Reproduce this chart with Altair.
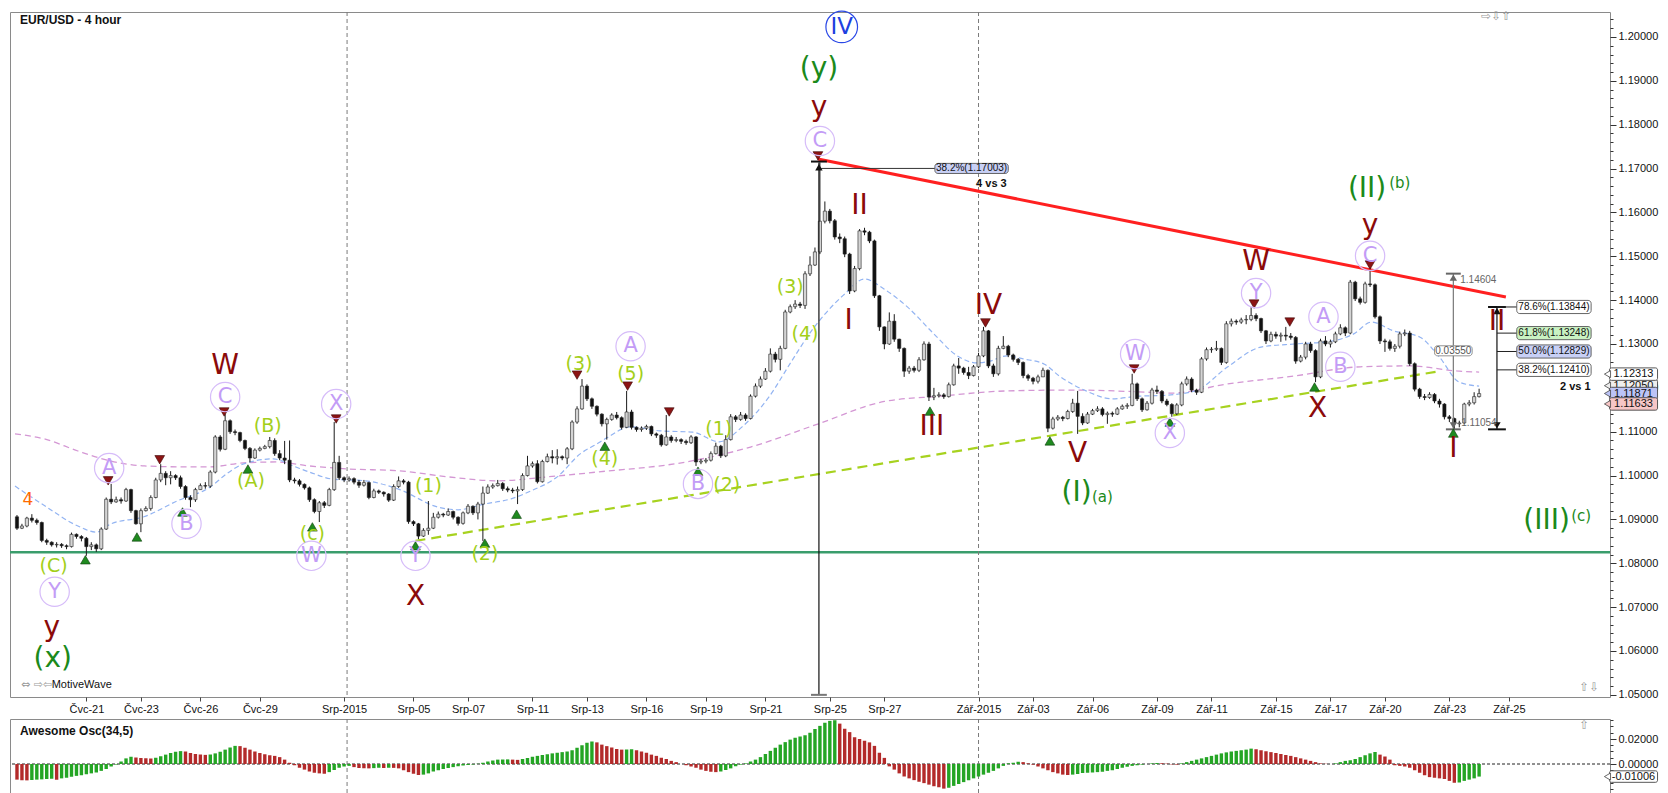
import altair as alt
import pandas as pd

# ---------------- values ----------------
# EUR/USD 4h candles, prices in pips above 1.0000 (bar index 0..295)
FIRST_OPEN = 906
CLOSES = [880,885,903,898,893,852,848,842,843,840,
 838,866,861,857,838,842,833,878,946,940,
 945,942,968,920,890,920,925,950,990,1005,
 995,1000,995,975,950,945,968,977,976,1008,
 1088,1060,1125,1100,1098,1080,1062,1040,1058,1062,
 1066,1080,1050,1040,1035,990,988,980,972,945,
 918,938,932,968,1030,995,990,993,985,978,
 984,950,965,962,958,944,975,988,985,895,
 890,862,875,880,905,912,910,918,905,891,
 915,930,915,935,960,974,977,982,970,967,
 965,968,1000,1022,1027,986,1032,1043,1040,1043,
 1040,1061,1122,1152,1204,1175,1158,1140,1118,1128,
 1138,1132,1110,1145,1110,1105,1108,1112,1095,1092,
 1070,1088,1080,1082,1078,1075,1088,1031,1033,1035,
 1050,1067,1045,1082,1134,1128,1138,1130,1181,1204,
 1220,1238,1277,1265,1290,1373,1385,1391,1388,1460,
 1480,1510,1580,1603,1581,1544,1540,1505,1421,1472,
 1558,1555,1535,1410,1339,1300,1352,1311,1290,1238,
 1245,1240,1264,1300,1179,1182,1184,1180,1207,1250,
 1245,1235,1228,1248,1273,1330,1250,1232,1290,1295,
 1275,1265,1258,1228,1222,1215,1225,1240,1108,1129,
 1133,1130,1146,1165,1135,1120,1140,1148,1152,1139,
 1142,1140,1152,1158,1160,1209,1175,1150,1165,1195,
 1192,1170,1162,1141,1161,1209,1220,1195,1190,1266,
 1287,1288,1290,1258,1346,1352,1350,1355,1356,1365,
 1358,1330,1307,1322,1318,1320,1318,1315,1261,1270,
 1300,1285,1225,1307,1300,1305,1323,1337,1325,1441,
 1403,1395,1437,1435,1362,1307,1305,1290,1295,1323,
 1325,1255,1197,1180,1178,1185,1170,1163,1134,1130,
 1118,1120,1163,1166,1180,1187]
HIGHS = [910,890,906,912,902,895,856,850,848,846,
 843,870,868,864,860,848,845,882,950,981,
 952,950,972,970,922,925,930,955,995,1026,
 1010,1010,1003,1000,978,955,972,982,985,1012,
 1092,1092,1140,1128,1105,1100,1082,1065,1062,1066,
 1070,1088,1085,1058,1079,1080,995,992,982,975,
 948,942,942,972,1122,1045,998,998,996,990,
 990,986,970,968,964,960,980,998,992,988,
 898,892,880,942,915,918,915,925,920,907,
 918,935,932,940,975,980,982,990,985,975,
 972,975,1005,1045,1032,1035,1036,1050,1058,1060,
 1046,1065,1126,1158,1220,1208,1178,1160,1142,1132,
 1142,1145,1135,1193,1150,1112,1112,1116,1114,1098,
 1095,1138,1092,1088,1085,1082,1092,1090,1038,1040,
 1055,1075,1070,1092,1140,1138,1145,1142,1185,1210,
 1226,1245,1290,1282,1296,1378,1390,1400,1396,1466,
 1500,1520,1714,1625,1608,1585,1552,1545,1508,1478,
 1562,1565,1558,1538,1412,1340,1372,1368,1312,1292,
 1250,1250,1270,1306,1305,1200,1190,1188,1212,1255,
 1268,1248,1248,1252,1280,1339,1332,1255,1296,1318,
 1298,1278,1268,1260,1232,1225,1230,1246,1242,1134,
 1138,1136,1150,1175,1193,1142,1145,1152,1158,1156,
 1146,1146,1156,1162,1165,1232,1212,1178,1170,1200,
 1205,1195,1175,1165,1165,1214,1226,1224,1198,1270,
 1292,1293,1307,1292,1352,1358,1356,1360,1366,1384,
 1370,1360,1332,1328,1328,1326,1339,1325,1318,1275,
 1305,1305,1288,1312,1318,1310,1328,1345,1340,1446,
 1444,1408,1442,1476,1438,1365,1312,1310,1300,1328,
 1333,1330,1258,1200,1186,1190,1188,1175,1165,1138,
 1132,1125,1166,1172,1190,1198]
LOWS = [876,878,882,893,888,848,842,838,836,835,
 832,836,856,850,817,830,826,830,876,935,
 938,936,940,915,888,871,918,920,948,985,
 978,980,990,970,945,928,940,968,970,972,
 1005,1055,1058,1095,1092,1076,1058,1030,1038,1055,
 1060,1062,1045,1035,1026,985,982,975,968,940,
 914,894,926,930,965,990,985,986,980,972,
 975,946,948,958,952,940,942,972,980,890,
 885,855,860,865,878,902,905,908,900,886,
 888,912,910,900,851,958,970,975,965,962,
 960,935,965,998,1018,982,984,1030,1028,1025,
 1035,1026,1058,1118,1150,1170,1152,1135,1112,1082,
 1125,1128,1105,1108,1105,1100,1100,1104,1090,1086,
 1066,1068,1075,1076,1072,1070,1072,1022,1026,1028,
 1032,1048,1040,1042,1080,1122,1125,1125,1128,1178,
 1200,1218,1235,1258,1240,1288,1370,1380,1382,1380,
 1455,1478,1505,1575,1575,1538,1530,1498,1414,1418,
 1468,1548,1530,1405,1330,1288,1298,1305,1282,1225,
 1232,1235,1236,1262,1170,1172,1178,1175,1178,1205,
 1232,1230,1220,1226,1245,1270,1245,1225,1228,1288,
 1270,1260,1252,1222,1216,1208,1210,1228,1099,1105,
 1125,1124,1128,1143,1095,1115,1118,1138,1145,1135,
 1118,1134,1138,1150,1152,1158,1170,1145,1148,1162,
 1186,1165,1158,1134,1138,1158,1205,1190,1184,1188,
 1262,1280,1284,1252,1255,1340,1344,1346,1345,1352,
 1352,1325,1300,1304,1312,1305,1308,1310,1255,1258,
 1265,1280,1213,1222,1295,1292,1302,1320,1318,1322,
 1398,1390,1392,1430,1358,1300,1282,1285,1282,1290,
 1318,1250,1192,1175,1172,1175,1165,1155,1128,1122,
 1105,1110,1118,1158,1162,1178]
# Awesome Oscillator (34,5), in thousandths
AO_MILLI = [-12.5,-13.0,-13.1,-12.8,-12.5,-12.3,-12.0,-11.8,-12.6,-11.5,
 -11.0,-10.2,-9.5,-9.0,-8.2,-7.5,-6.8,-5.5,-4.0,-2.0,
 -0.5,2.0,4.5,5.8,5.2,4.8,4.6,4.4,5.0,6.2,
 7.5,8.8,9.8,10.3,10.0,8.8,8.0,7.6,7.3,7.6,
 8.5,9.8,11.5,13.2,14.5,14.3,13.0,11.5,10.0,8.8,
 7.8,7.0,6.5,5.5,3.5,1.0,-1.0,-3.0,-4.5,-6.0,
 -7.0,-7.5,-7.8,-6.5,-4.8,-3.0,-2.0,-1.5,-2.5,-3.2,
 -3.4,-3.5,-3.3,-3.0,-3.2,-3.0,-3.1,-3.5,-5.0,-6.5,
 -7.8,-8.8,-8.5,-7.5,-6.0,-5.0,-4.0,-3.2,-2.5,-1.8,
 -1.2,-0.8,-0.4,0.2,1.0,2.0,2.8,3.5,3.6,3.7,
 3.5,3.3,4.0,4.8,5.8,6.5,7.2,7.8,8.5,9.0,
 9.5,10.0,11.0,13.0,15.0,17.0,18.0,17.3,15.5,14.3,
 13.2,12.0,11.5,11.6,11.8,11.0,10.0,9.0,7.5,6.5,
 5.0,4.0,2.5,1.5,0.0,-1.0,-2.0,-3.0,-4.5,-5.5,
 -6.2,-6.5,-6.0,-4.8,-3.5,-1.8,-0.5,0.5,2.0,3.5,
 5.5,8.0,10.5,13.0,15.5,17.5,19.5,21.0,22.0,23.0,
 25.0,28.0,30.5,33.0,34.5,35.0,32.3,28.2,25.5,21.4,
 20.0,18.6,17.3,14.5,9.0,4.9,-1.9,-4.5,-7.5,-10.0,
 -11.5,-12.9,-14.2,-15.3,-16.5,-17.8,-18.6,-19.7,-19.0,-17.5,
 -16.0,-14.5,-13.0,-11.5,-10.0,-8.5,-7.0,-5.5,-3.5,-1.5,
 0.5,1.0,1.8,1.5,0.5,-0.5,-2.0,-3.5,-5.0,-6.5,
 -7.5,-8.5,-8.8,-8.5,-8.0,-7.2,-7.0,-6.8,-6.5,-6.2,
 -5.5,-5.0,-4.0,-3.0,-2.2,-1.5,-1.0,-0.5,0.0,0.5,
 0.8,0.6,0.3,-0.3,-0.5,0.5,1.5,2.5,3.5,4.5,
 5.5,6.5,7.5,8.5,9.3,10.0,10.5,11.0,11.5,12.3,
 11.8,11.0,10.2,9.5,8.8,8.0,7.2,6.5,5.5,4.5,
 3.5,2.5,1.5,0.5,0.2,0.0,0.5,1.5,2.5,3.0,
 4.0,5.5,7.0,8.5,9.6,7.5,6.0,3.5,-1.0,-1.5,
 -2.0,-3.0,-5.0,-7.0,-9.0,-10.5,-11.0,-11.5,-12.0,-13.5,
 -15.0,-14.8,-13.5,-12.5,-11.5,-10.06]

# time axis (bar index of each date label)
X_TICK_BARS = [14, 25, 37, 49, 66, 80, 91, 104, 115, 127, 139, 151, 164, 175,
               194, 205, 217, 230, 241, 254, 265, 276, 289, 301]
X_TICK_TEXT = ["Čvc-21", "Čvc-23", "Čvc-26", "Čvc-29", "Srp-2015", "Srp-05", "Srp-07",
               "Srp-11", "Srp-13", "Srp-16", "Srp-19", "Srp-21", "Srp-25", "Srp-27",
               "Zář-2015", "Zář-03", "Zář-06", "Zář-09", "Zář-11", "Zář-15", "Zář-17",
               "Zář-20", "Zář-23", "Zář-25"]
MONTH_BREAKS = [66.6, 194.0]

# moving averages
MA_FAST_BAR = [-0.4, 5.6, 12.3, 16, 19, 25.6, 32.3, 39, 42.3, 45.6, 51.7, 55.7, 59, 63.7, 70.3,
               77, 85, 89, 94.3, 99.7, 103.7, 109, 113.7, 117, 119, 123.7, 129.7, 136.3, 141.7,
               146.3, 151.7, 156.3, 160.3, 163, 167, 171, 175, 179.7, 185, 189.7, 193.7, 196.3,
               199.7, 203, 207.3, 210.3, 215.7, 221, 226.3, 231.5, 237.7, 244.3, 251, 257.7,
               264.3, 269.7, 273.3, 277.7, 283, 287, 291, 295]
MA_FAST_PIPS = [976, 931, 885, 871, 890, 906, 942, 974, 1004, 1026, 1038, 1022, 1008, 992, 988,
                969, 928, 922, 935, 947, 965, 997, 1050, 1072, 1086, 1111, 1102, 1099, 1077,
                1111, 1179, 1261, 1330, 1368, 1414, 1448, 1425, 1384, 1323, 1273, 1257, 1261,
                1273, 1266, 1254, 1227, 1193, 1175, 1181, 1183, 1193, 1248, 1293, 1300,
                1305, 1323, 1350, 1330, 1316, 1270, 1213, 1204]
MA_SLOW_BAR = [-0.4, 5.7, 12.3, 19, 25.7, 32.3, 39, 45.7, 52.3, 59, 67, 77, 87, 97, 107, 117,
               135, 148, 161.7, 175, 186.3, 199.7, 213, 226.3, 233, 244.3, 257.7, 271, 281, 291, 295]
MA_SLOW_PIPS = [1095, 1083, 1056, 1033, 1022, 1020, 1020, 1029, 1031, 1022, 1015, 1011, 997, 988,
                997, 1008, 1031, 1065, 1118, 1169, 1181, 1193, 1195, 1191, 1188, 1209, 1227,
                1248, 1250, 1238, 1236]

SUPPORT_LEVEL = 1.0825
RESIST_BAR = [161.6, 300.4]
RESIST_PRICE = [1.1722, 1.1407]
TREND_BAR = [80.4, 287.0]
TREND_PRICE = [1.0851, 1.1238]

SWING_LOW_BAR = [13.8, 24.2, 33.4, 46.6, 59.6, 80.4, 94.4, 100.8, 118.6, 137.4, 184.2, 208.4,
                 232.6, 261.8, 289.8]
SWING_LOW_PRICE = [1.0808, 1.0860, 1.0917, 1.1015, 1.0883, 1.0840, 1.0846, 1.0912, 1.1067,
                   1.1010, 1.1147, 1.1079, 1.1122, 1.1202, 1.1097]
SWING_HIGH_BAR = [18.4, 28.8, 41.8, 64.4, 113.0, 123.2, 131.6, 161.6, 195.4, 225.4, 249.6,
                  256.8, 273.0]
SWING_HIGH_PRICE = [1.0988, 1.1036, 1.1145, 1.1129, 1.1229, 1.1204, 1.1145, 1.1729, 1.1348,
                    1.1243, 1.1391, 1.1350, 1.1480]

# wave labels: (bar, price, text)
LBL_DARKRED = [(7, 1.0652, "y"), (42, 1.1250, "W"), (80.4, 1.0723, "X"), (161.8, 1.1838, "y"),
               (167.8, 1.1352, "I"), (170, 1.1615, "II"), (184.6, 1.1111, "III"),
               (196, 1.1387, "IV"), (214, 1.1049, "V"), (250, 1.1487, "W"),
               (262.4, 1.1152, "X"), (273, 1.1569, "y"), (289.8, 1.1061, "I"),
               (298.6, 1.1350, "II")]
LBL_GREEN = [(7.2, 1.0582, "(x)"), (161.8, 1.1927, "(y)"), (213.8, 1.0960, "(I)"),
             (272.4, 1.1653, "(II)"), (308.6, 1.0897, "(III)")]
LBL_GREEN_SMALL = [(219.0, 1.0951, "(a)"), (279.0, 1.1668, "(b)"), (315.6, 1.0908, "(c)")]
LBL_LIME = [(7.4, 1.0794, "(C)"), (47.2, 1.0988, "(A)"), (50.6, 1.1113, "(B)"),
            (59.6, 1.0867, "(c)"), (83, 1.0976, "(1)"), (94.4, 1.0821, "(2)"),
            (113.4, 1.1254, "(3)"), (118.6, 1.1038, "(4)"), (123.8, 1.1232, "(5)"),
            (141.6, 1.1106, "(1)"), (143.2, 1.0979, "(2)"), (156, 1.1430, "(3)"),
            (159, 1.1323, "(4)")]
LBL_CIRCLED = [(7.6, 1.0735, "Y"), (18.6, 1.1017, "A"), (34.2, 1.0890, "B"), (42, 1.1179, "C"),
               (59.4, 1.0817, "W"), (64.4, 1.1163, "X"), (80.4, 1.0817, "Y"),
               (123.8, 1.1295, "A"), (137.4, 1.0981, "B"), (162, 1.1763, "C"),
               (225.6, 1.1277, "W"), (232.6, 1.1097, "X"), (250, 1.1416, "Y"),
               (263.6, 1.1362, "A"), (267, 1.1248, "B"), (273, 1.1501, "C")]
LBL_ORANGE = [(2.2, 1.0945, "4")]
LBL_BLUE_CIRCLED = [(166.4, 1.2023, "IV")]

# retracement / measuring tools
FIB_A_BAR = 161.8
FIB_A_LEVEL = 1.17003
FIB_A_TEXT = "38.2%(1.17003)"
FIB_B_BAR = 289.8
FIB_B_TOP, FIB_B_BOTTOM = 1.14604, 1.11054
FIB_B_RANGE = "0.03550"
FIB_C_BAR = 298.6
FIB_C_LEVELS = [1.13844, 1.13248, 1.12829, 1.12410]
FIB_C_TEXT = ["78.6%(1.13844)", "61.8%(1.13248)", "50.0%(1.12829)", "38.2%(1.12410)"]
FIB_C_FILL = ["#ffffff", "#c9f2c2", "#c8d0f6", "#ffffff"]

# right-hand price tags, drawn in this order (the grey one sits mostly underneath)
PRICE_TAGS = [1.12050, 1.12313, 1.11871, 1.11633]
PRICE_TAG_FILL = ["#eeeeee", "#ffffff", "#bcc4f7", "#f7c6c6"]
AO_TAG = -0.01006

# ---------------- build ----------------
FONT = "Liberation Sans"
WFONT = "DejaVu Sans"
X0, X1 = -0.4, 320.4
XS = alt.Scale(domain=[X0, X1], nice=False, zero=False)
YS = alt.Scale(domain=[1.04951, 1.2057], nice=False, zero=False)
OS = alt.Scale(domain=[-0.024, 0.036], nice=False, zero=False)

ticks_js = "[" + ",".join(str(v) for v in X_TICK_BARS) + "]"
labels_js = "[" + ",".join("'" + s + "'" for s in X_TICK_TEXT) + "]"
XAX = alt.Axis(values=X_TICK_BARS, labelExpr=f"{labels_js}[indexof({ticks_js}, datum.value)]",
               title=None, grid=False, domain=False, tickSize=4, tickColor="#444",
               labelFont=FONT, labelFontSize=11, labelColor="#111", labelPadding=2,
               labelOverlap=False, labelFlush=False, zindex=0)
y_vals = [round(1.05 + 0.002 * k, 3) for k in range(78)]
major = "abs(round(datum.value*1000)) % 10 == 0"
YAX = alt.Axis(orient="right", values=y_vals, title=None, grid=False, domain=False,
               labelExpr=f"{major} ? format(datum.value, '.5f') : ''",
               tickSize={"condition": {"test": major, "value": 6}, "value": 3},
               tickColor="#333", labelFont=FONT, labelFontSize=11, labelColor="#111",
               labelPadding=2, labelOverlap=False, labelFlush=False, zindex=0)
o_vals = [round(-0.02 + 0.005 * k, 3) for k in range(12)]
omajor = "abs(datum.value) < 1e-9 || abs(datum.value - 0.02) < 1e-9"
OAX = alt.Axis(orient="right", values=o_vals, title=None, grid=False, domain=False,
               labelExpr=f"({omajor}) ? format(datum.value, '.5f') : ''",
               tickSize={"condition": {"test": omajor, "value": 6}, "value": 3},
               tickColor="#333", labelFont=FONT, labelFontSize=11, labelColor="#111",
               labelPadding=2, labelOverlap=False, labelFlush=False, zindex=0)


def xq(f="i"):
    return alt.X(f"{f}:Q", scale=XS, axis=XAX, title=None)


def yq(f="p"):
    return alt.Y(f"{f}:Q", scale=YS, axis=YAX, title=None)


def ox(f="i"):
    return alt.X(f"{f}:Q", scale=XS, axis=None, title=None)


def oy(f="v"):
    return alt.Y(f"{f}:Q", scale=OS, axis=OAX, title=None)


n = min(len(CLOSES), len(HIGHS), len(LOWS))
opens = [FIRST_OPEN] + CLOSES[:n - 1]
rows = []
for k in range(n):
    o, c = opens[k] / 1e4 + 1, CLOSES[k] / 1e4 + 1
    h = max(HIGHS[k] / 1e4 + 1, o, c)
    l = min(LOWS[k] / 1e4 + 1, o, c)
    rows.append({"i": k, "o": o, "c": c, "h": h, "l": l,
                 "col": "#d4d4d4" if c >= o else "#111111"})
bars = pd.DataFrame(rows)

ao_rows = []
for k, v in enumerate(AO_MILLI):
    prev = AO_MILLI[k - 1] if k > 0 else v + 1
    ao_rows.append({"i": k, "v": v / 1000.0, "col": "#24a524" if v > prev else "#b32a2a"})
ao = pd.DataFrame(ao_rows)

layers = []
# support line
layers.append(alt.Chart(pd.DataFrame({"p": [SUPPORT_LEVEL]})).mark_rule(
    color="#3a9d6c", strokeWidth=2.5).encode(y=yq()))
# month separators
layers.append(alt.Chart(pd.DataFrame({"i": MONTH_BREAKS})).mark_rule(
    color="#7a7a7a", strokeDash=[4, 3], strokeWidth=1).encode(x=xq()))
# moving averages
ma_f = pd.DataFrame({"i": MA_FAST_BAR, "p": [v / 1e4 + 1 for v in MA_FAST_PIPS]})
ma_s = pd.DataFrame({"i": MA_SLOW_BAR, "p": [v / 1e4 + 1 for v in MA_SLOW_PIPS]})
layers.append(alt.Chart(ma_s).mark_line(color="#d497d4", strokeDash=[6, 4], strokeWidth=1.3,
                                        interpolate="monotone").encode(x=xq(), y=yq()))
layers.append(alt.Chart(ma_f).mark_line(color="#93b4f2", strokeDash=[5, 3], strokeWidth=1.2,
                                        interpolate="monotone").encode(x=xq(), y=yq()))
# lime trend line
trend = pd.DataFrame({"i": [TREND_BAR[0]], "i2": [TREND_BAR[1]],
                      "p": [TREND_PRICE[0]], "p2": [TREND_PRICE[1]]})
layers.append(alt.Chart(trend).mark_rule(color="#a7d21f", strokeWidth=2.2, strokeDash=[10, 6])
              .encode(x=xq(), x2="i2:Q", y=yq(), y2="p2:Q"))
# candles
layers.append(alt.Chart(bars).mark_rule(color="#1a1a1a", strokeWidth=1)
              .encode(x=xq(), y=yq("l"), y2="h:Q"))
layers.append(alt.Chart(bars).mark_bar(width=3.2, stroke="#222222", strokeWidth=0.6)
              .encode(x=xq(), y=yq("o"), y2="c:Q", fill=alt.Fill("col:N", scale=None)))
# red resistance line
res = pd.DataFrame({"i": [RESIST_BAR[0]], "i2": [RESIST_BAR[1]],
                    "p": [RESIST_PRICE[0]], "p2": [RESIST_PRICE[1]]})
layers.append(alt.Chart(res).mark_rule(color="#ff2020", strokeWidth=3)
              .encode(x=xq(), x2="i2:Q", y=yq(), y2="p2:Q"))

# measuring tools: segments
seg = []
def add_seg(a, b, p, q, col, w):
    seg.append({"i": a, "i2": b, "p": p, "p2": q, "col": col, "w": w})

# tool A (black) at the August top
add_seg(FIB_A_BAR, FIB_A_BAR, 1.1714, 1.0500, "#111111", 1.2)
add_seg(FIB_A_BAR - 1.6, FIB_A_BAR + 1.6, 1.1716, 1.1716, "#111111", 2)
add_seg(FIB_A_BAR - 1.6, FIB_A_BAR + 1.6, 1.0500, 1.0500, "#777777", 2)
add_seg(FIB_A_BAR, 185.2, FIB_A_LEVEL, FIB_A_LEVEL, "#333333", 1)
# tool B (grey) range measure
add_seg(FIB_B_BAR, FIB_B_BAR, FIB_B_TOP, FIB_B_BOTTOM, "#777777", 1.2)
add_seg(FIB_B_BAR - 1.5, FIB_B_BAR + 1.5, FIB_B_TOP, FIB_B_TOP, "#666666", 2)
add_seg(FIB_B_BAR - 1.5, FIB_B_BAR + 1.5, FIB_B_BOTTOM, FIB_B_BOTTOM, "#666666", 2)
# tool C (black) retracement
add_seg(FIB_C_BAR, FIB_C_BAR, FIB_C_LEVELS[0], FIB_B_BOTTOM, "#111111", 1.2)
add_seg(FIB_C_BAR - 1.8, FIB_C_BAR + 1.8, FIB_C_LEVELS[0], FIB_C_LEVELS[0], "#111111", 2)
add_seg(FIB_C_BAR - 1.8, FIB_C_BAR + 1.8, FIB_B_BOTTOM, FIB_B_BOTTOM, "#111111", 2)
for lv in FIB_C_LEVELS:
    add_seg(FIB_C_BAR, 302.6, lv, lv, "#222222", 1)
segdf = pd.DataFrame(seg)
layers.append(alt.Chart(segdf).mark_rule().encode(
    x=xq(), x2="i2:Q", y=yq(), y2="p2:Q",
    color=alt.Color("col:N", scale=None), strokeWidth=alt.StrokeWidth("w:Q", scale=None)))

# arrow heads
arr_up = pd.DataFrame({"i": [FIB_A_BAR, FIB_B_BAR, FIB_C_BAR],
                       "p": [1.1703, FIB_B_TOP - 0.0009, FIB_C_LEVELS[0] - 0.0009],
                       "col": ["#111111", "#666666", "#111111"]})
arr_dn = pd.DataFrame({"i": [FIB_B_BAR, FIB_C_BAR],
                       "p": [FIB_B_BOTTOM + 0.0009, FIB_B_BOTTOM + 0.0009],
                       "col": ["#666666", "#111111"]})
layers.append(alt.Chart(arr_up).mark_point(shape="triangle-up", filled=True, size=55, opacity=1)
              .encode(x=xq(), y=yq(), color=alt.Color("col:N", scale=None)))
layers.append(alt.Chart(arr_dn).mark_point(shape="triangle-down", filled=True, size=55, opacity=1)
              .encode(x=xq(), y=yq(), color=alt.Color("col:N", scale=None)))

# swing markers
lows_df = pd.DataFrame({"i": SWING_LOW_BAR, "p": SWING_LOW_PRICE})
highs_df = pd.DataFrame({"i": SWING_HIGH_BAR, "p": SWING_HIGH_PRICE})
layers.append(alt.Chart(lows_df).mark_point(shape="triangle-up", filled=True, size=95,
                                             color="#1f8a1f", stroke="#0b3d0b", strokeWidth=0.6,
                                             opacity=1).encode(x=xq(), y=yq()))
layers.append(alt.Chart(highs_df).mark_point(shape="triangle-down", filled=True, size=95,
                                              color="#8c1414", stroke="#3a0505", strokeWidth=0.6,
                                              opacity=1).encode(x=xq(), y=yq()))


def text_layer(items, **kw):
    df = pd.DataFrame(items, columns=["i", "p", "t"])
    base = dict(align="center", baseline="middle", font=WFONT)
    base.update(kw)
    return alt.Chart(df).mark_text(**base).encode(x=xq(), y=yq(), text="t:N")


# circled labels
circ_df = pd.DataFrame(LBL_CIRCLED, columns=["i", "p", "t"])
layers.append(alt.Chart(circ_df).mark_point(shape="circle", filled=False, size=860,
                                             color="#d6bcf9", strokeWidth=1.2, opacity=1)
              .encode(x=xq(), y=yq()))
layers.append(text_layer(LBL_CIRCLED, fontSize=21, color="#c39cf6"))
blue_df = pd.DataFrame(LBL_BLUE_CIRCLED, columns=["i", "p", "t"])
layers.append(alt.Chart(blue_df).mark_point(shape="circle", filled=False, size=1000,
                                             color="#2a48e6", strokeWidth=1.2, opacity=1)
              .encode(x=xq(), y=yq()))
layers.append(text_layer(LBL_BLUE_CIRCLED, fontSize=23, color="#2040e0"))
layers.append(text_layer(LBL_DARKRED, fontSize=28, color="#8b0a0a"))
layers.append(text_layer(LBL_GREEN, fontSize=28, color="#1b8a1b"))
layers.append(text_layer(LBL_GREEN_SMALL, fontSize=15, color="#1b8a1b"))
layers.append(text_layer(LBL_LIME, fontSize=19, color="#a3cf1a"))
layers.append(text_layer(LBL_ORANGE, fontSize=17, color="#ff6a00"))

# boxes (fib labels + measure box)
boxes = [{"i": 185.2, "i2": 200.0, "p": FIB_A_LEVEL - 0.00115, "p2": FIB_A_LEVEL + 0.00115,
          "fill": "#c8d0f6", "stroke": "#555555"},
         {"i": 286.0, "i2": 293.6, "p": 1.1273, "p2": 1.1296, "fill": "#ffffff",
          "stroke": "#888888"}]
for lv, f in zip(FIB_C_LEVELS, FIB_C_FILL):
    boxes.append({"i": 302.6, "i2": 317.6, "p": lv - 0.0015, "p2": lv + 0.0015,
                  "fill": f, "stroke": "#555555"})
boxdf = pd.DataFrame(boxes)
layers.append(alt.Chart(boxdf).mark_rect(cornerRadius=3, strokeWidth=0.9).encode(
    x=xq(), x2="i2:Q", y=yq(), y2="p2:Q",
    fill=alt.Fill("fill:N", scale=None), stroke=alt.Stroke("stroke:N", scale=None)))

box_text = [(192.6, FIB_A_LEVEL, FIB_A_TEXT)] + [(310.1, lv, t) for lv, t in zip(FIB_C_LEVELS, FIB_C_TEXT)]
layers.append(text_layer(box_text, fontSize=10, color="#111111", font=FONT))
layers.append(text_layer([(289.8, 1.12845, FIB_B_RANGE)], fontSize=10, color="#555555", font=FONT))
layers.append(text_layer([(291.2, 1.1446, "1.14604"), (291.4, 1.1120, "1.11054")],
                         fontSize=10, color="#666666", font=FONT, align="left"))
layers.append(text_layer([(196.6, 1.1665, "4 vs 3"), (314.4, 1.1203, "2 vs 1")],
                         fontSize=11, color="#111111", font=FONT, fontWeight="bold"))

# price tags: each box, pointer and text drawn together so later tags cover earlier ones
for lv, f in zip(PRICE_TAGS, PRICE_TAG_FILL):
    tb = pd.DataFrame({"i": [321.3], "i2": [331.0], "p": [lv - 0.00142], "p2": [lv + 0.00142]})
    layers.append(alt.Chart(tb).mark_rect(cornerRadius=2, fill=f, stroke="#444444",
                                          strokeWidth=0.9)
                  .encode(x=xq(), x2="i2:Q", y=yq(), y2="p2:Q"))
    tp = pd.DataFrame({"i": [320.9], "p": [lv]})
    layers.append(alt.Chart(tp).mark_point(shape="triangle-left", filled=True, size=50, fill=f,
                                           stroke="#444444", strokeWidth=0.8, opacity=1)
                  .encode(x=xq(), y=yq()))
    layers.append(text_layer([(326.15, lv, f"{lv:.5f}")], fontSize=11, color="#111111",
                             font=FONT))

layers.append(text_layer([(0.6, 1.2039, "EUR/USD - 4 hour")], fontSize=12, color="#111111",
                         font=FONT, fontWeight="bold", align="left"))
layers.append(text_layer([(7.0, 1.0522, "MotiveWave")], fontSize=11, color="#111111",
                         font=FONT, align="left"))
layers.append(text_layer([(0.8, 1.0522, "⇔ ⇨⇦")], fontSize=11, color="#9a9a9a", align="left"))
layers.append(text_layer([(295.4, 1.2048, "⇨⇩⇧"), (315.2, 1.0518, "⇧⇩")], fontSize=12,
                         color="#9a9a9a", align="left"))

main = alt.layer(*layers).properties(width=1600, height=685)

# ---------------- oscillator panel ----------------
olayers = []
olayers.append(alt.Chart(pd.DataFrame({"v": [0.0]})).mark_rule(
    color="#222222", strokeDash=[3, 2], strokeWidth=1).encode(y=oy()))
olayers.append(alt.Chart(pd.DataFrame({"i": MONTH_BREAKS})).mark_rule(
    color="#7a7a7a", strokeDash=[4, 3], strokeWidth=1).encode(x=ox()))
olayers.append(alt.Chart(ao).mark_bar(width=3.4).encode(
    x=ox(), y=oy(), y2=alt.datum(0.0), fill=alt.Fill("col:N", scale=None)))
olayers.append(alt.Chart(pd.DataFrame({"i": [0.6], "v": [0.0262], "t": ["Awesome Osc(34,5)"]}))
               .mark_text(align="left", baseline="middle", font=FONT, fontSize=12,
                          fontWeight="bold", color="#111111")
               .encode(x=ox(), y=oy(), text="t:N"))
otag = pd.DataFrame({"i": [321.3], "i2": [331.0], "v": [AO_TAG - 0.0046], "v2": [AO_TAG + 0.0046]})
olayers.append(alt.Chart(otag).mark_rect(cornerRadius=2, fill="#ffffff", stroke="#444444",
                                         strokeWidth=0.9)
               .encode(x=ox(), x2="i2:Q", y=oy(), y2="v2:Q"))
olayers.append(alt.Chart(pd.DataFrame({"i": [320.9], "v": [AO_TAG]}))
               .mark_point(shape="triangle-left", filled=True, size=50, fill="#ffffff",
                           stroke="#444444", strokeWidth=0.8, opacity=1)
               .encode(x=ox(), y=oy()))
olayers.append(alt.Chart(pd.DataFrame({"i": [326.15], "v": [AO_TAG], "t": [f"{AO_TAG:.5f}"]}))
               .mark_text(align="center", baseline="middle", font=FONT, fontSize=11,
                          color="#111111")
               .encode(x=ox(), y=oy(), text="t:N"))
olayers.append(alt.Chart(pd.DataFrame({"i": [315.2], "v": [0.031], "t": ["⇧"]}))
               .mark_text(align="left", baseline="middle", fontSize=12, color="#9a9a9a")
               .encode(x=ox(), y=oy(), text="t:N"))

osc = alt.layer(*olayers).properties(width=1600, height=75)

chart = alt.vconcat(main, osc, spacing=22, bounds="flush").properties(
    padding={"left": 0, "top": 0, "right": 0, "bottom": 0}, background="white"
).configure_view(stroke="#8a8a8a", strokeWidth=1)

chart.save("out.html", embed_options={"renderer": "svg", "actions": False})
